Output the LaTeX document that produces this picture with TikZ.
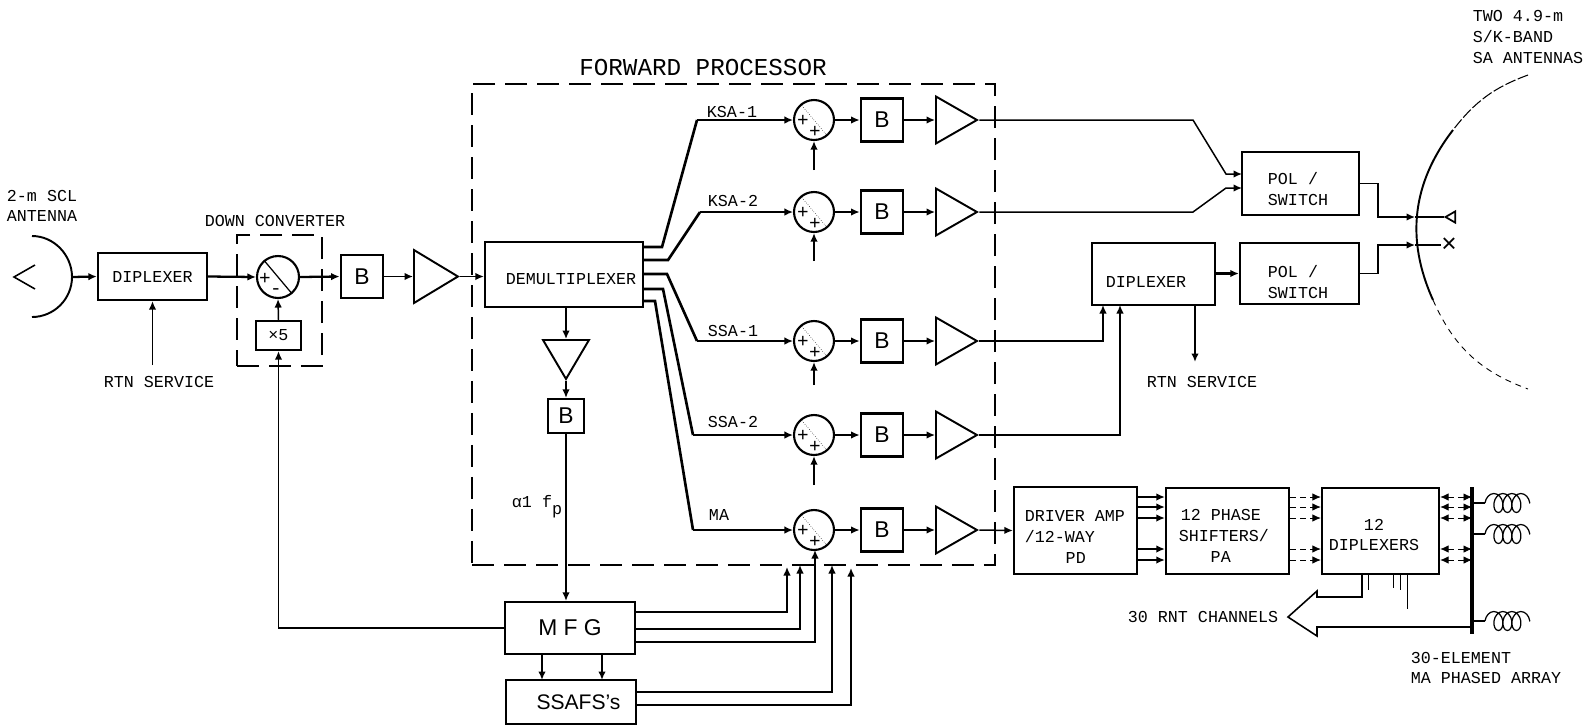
\documentclass[tikz,border=0pt]{standalone}
\usepackage{fontspec}
\setmonofont{Liberation Mono}
\setsansfont{Liberation Sans}
\usetikzlibrary{arrows.meta,calc,shapes.geometric,decorations.pathmorphing}

\begin{document}
\begin{tikzpicture}[
  x=0.02cm, y=-0.02cm,
  line width=0.85pt,
  font=\fontsize{9.5}{11.8}\selectfont\ttfamily,
  blk/.style={draw, fill=white, line width=1.3pt, align=center, inner sep=0pt},
  sbox/.style={blk, minimum width=0.85cm, minimum height=0.86cm, font=\fontsize{13}{15}\selectfont\sffamily},
  big/.style={blk, minimum width=2.38cm, minimum height=1.73cm},
  frm/.style={draw, line width=1.2pt, dash pattern=on 0.44cm off 0.2cm, inner sep=0pt},
  sum/.style={draw, fill=white, circle, line width=1.2pt, minimum size=0.8cm, inner sep=0pt},
  ampl/.style={draw, fill=white, isosceles triangle, isosceles triangle stretches, line width=1.1pt,
    inner sep=0pt, minimum height=0.82cm, minimum width=0.94cm, anchor=lower side},
  flow/.style={-{Latex[length=1.7mm,width=1.5mm]}},
  heavy/.style={flow, line width=1.3pt},
  duo/.style={{Latex[length=1.7mm,width=1.5mm]}-{Latex[length=1.7mm,width=1.5mm]}},
  faint/.style={line width=0.5pt, dash pattern=on 1.2mm off 0.8mm},
  lbl/.style={align=left, inner sep=0pt},
  cross/.style={font=\fontsize{11}{11}\selectfont\ttfamily, inner sep=0pt},
  winding/.style={decorate, decoration={coil, aspect=0.7, segment length=0.18cm, amplitude=0.19cm,
    pre length=0pt, post length=0pt}, line width=0.7pt},
]
\useasboundingbox (0,0) rectangle (1587,725);

% ---------------- frames ----------------
\node[frm, minimum width=10.46cm, minimum height=9.62cm] (fwd) at (733.5,324.5) {};
\node[frm, minimum width=1.7cm, minimum height=2.62cm] (dwn) at (279.5,300.5) {};
\node[lbl, font=\fontsize{13.8}{16}\selectfont\ttfamily] (fwdlbl) at (703,67) {FORWARD PROCESSOR};
\node[lbl] (dwnlbl) at (275,221) {DOWN CONVERTER};

% ---------------- left chain ----------------
\draw[line width=1.1pt] (32,236) .. controls (54,236) and (72,255) .. (72,277)
  .. controls (72,299) and (54,317) .. (32,317);
\draw[line width=0.9pt] (35,265) -- (14,277) -- (35,289);
\coordinate (dish) at (72,277);
\node[lbl] (scl) at (42,206) {2-m SCL\\ANTENNA};
\node[blk, minimum width=2.18cm, minimum height=0.94cm] (dipa) at (152.5,276.5) {DIPLEXER};
\node[sum, minimum size=0.84cm] (mix) at (278,277) {};
\draw[line width=0.7pt] (mix.130) -- (mix.-50);
\node[cross] (mixa) at (265,279) {+};
\node[cross] (mixb) at (276,292) {-};
\node[blk, minimum width=0.9cm, minimum height=0.58cm] (five) at (278.5,335.5) {×5};
\node[sbox] (bfa) at (362,276.5) {B};
\node[ampl, minimum height=0.88cm, minimum width=1.06cm] (ampa) at (413,276.5) {};
\coordinate (rtna) at (dipa.south |- 0,365);
\node[lbl] (rtnalbl) at (159,382) {RTN SERVICE};
\draw[duo, heavy] (dish) -- (dipa.west);
\draw[heavy] (dipa.east) -- (mix.west);
\draw[flow] (rtna) -- (dipa.south);
\draw[flow] (five.north) -- (mix.south);
\draw[heavy] (mix.east) -- (bfa.west);
\draw[flow] (bfa.east) -- (ampa.lower side);

% ---------------- forward processor ----------------
\node[blk, minimum width=3.16cm, minimum height=1.3cm] (demux) at (564,274.5) {};
\node[lbl] (demuxlbl) at (571,279) {DEMULTIPLEXER};
\draw[flow] (ampa.apex) -- (ampa.apex -| demux.west);

% channels: port y, bend x, bend x, channel y
\foreach \i/\py/\ax/\bx/\cy in {1/247/662/697/120, 2/260/668/700/212, 3/274/667/697/341, 4/289/663/693/435, 5/301/655/693/530} {
  \coordinate (port\i) at (643,\py);
  \coordinate (bend\i) at (\bx,\cy);
  \node[sum] (sum\i) at (814,\cy) {};
  \draw[line width=0.3pt, densely dotted] (sum\i.130) -- (sum\i.-50);
  \node[cross] (plusa\i) at ($(sum\i)+(-11,1)$) {+};
  \node[cross] (plusb\i) at ($(sum\i)+(1,12)$) {+};
  \node[sbox] (bf\i) at (882,\cy) {B};
  \node[ampl] (amp\i) at (935,\cy) {};
  \draw[line width=1.5pt] (port\i) -- (\ax,\py) -- (bend\i);
  \draw[flow] (bend\i) -- (sum\i.west);
  \draw[flow] (sum\i.east) -- (bf\i.west);
  \draw[flow] (bf\i.east) -- (amp\i.lower side);
}
\foreach \i/\yy in {1/170, 2/261, 3/385, 4/485} {
  \coordinate (sumin\i) at (sum\i.south |- 0,\yy);
  \draw[heavy] (sumin\i) -- (sum\i.south);
}
\node[lbl] (ksaa) at (732,112) {KSA-1};
\node[lbl] (ksab) at (733,201) {KSA-2};
\node[lbl] (ssaa) at (733,331) {SSA-1};
\node[lbl] (ssab) at (733,422) {SSA-2};
\node[lbl] (malbl) at (719,515) {MA};

% pilot path
\node[ampl, minimum height=0.78cm, minimum width=0.92cm, shape border rotate=-90] (ampp) at (566,339) {};
\node[sbox, minimum width=0.72cm, minimum height=0.68cm] (bfp) at (566,416) {B};
\node[blk, minimum width=2.6cm, minimum height=1.04cm, font=\fontsize{13}{15}\selectfont\sffamily] (mfg) at (570,628) {M F G};
\node[blk, minimum width=2.6cm, minimum height=0.88cm, font=\fontsize{12}{15}\selectfont\sffamily] (ssafs) at (571,702) {\hspace*{0.3cm}SSAFS's};
\node[lbl] (alpha) at (537,507) {α1 f\raisebox{-0.8ex}{p}};
\draw[flow] (demux.south -| ampp.lower side) -- (ampp.lower side);
\draw[flow] (ampp.apex) -- (bfp.north);
\draw[flow] (bfp.south) -- (bfp.south |- mfg.north);
\coordinate (mfgl) at (mfg.west);
\draw[flow] (mfgl) -| (five.south);
\foreach \x in {542,602} {
  \coordinate (mfgd\x) at (\x,654);
  \coordinate (ssu\x) at (\x,680);
  \draw[heavy] (mfgd\x) -- (ssu\x);
}
% pilot feeds
\foreach \i/\py/\ex/\ey in {1/612/787/567, 2/629/800/565, 3/642/815/550, 4/692/832/565, 5/705/851/568} {
  \coordinate (feeda\i) at (635,\py);
  \coordinate (feedb\i) at (\ex,\ey);
  \draw[flow] (feeda\i) -| (feedb\i);
}

% ---------------- right chain ----------------
\node[blk, minimum width=2.34cm, minimum height=1.26cm] (pola) at (1300.5,183.5) {};
\node[lbl] (polalbl) at (1298,189) {POL /\\SWITCH};
\node[blk, minimum width=2.38cm, minimum height=1.22cm] (polb) at (1299.5,273.5) {};
\node[lbl] (polblbl) at (1298,282) {POL /\\SWITCH};
\node[blk, minimum width=2.46cm, minimum height=1.24cm] (dipb) at (1153.5,274) {};
\node[lbl] (dipblbl) at (1146,282) {DIPLEXER};
\coordinate (polaa) at (1242,174);
\coordinate (polab) at (1242,188);
\coordinate (dipba) at (1103,305);
\coordinate (dipbb) at (1120,305);
\coordinate (rtnb) at (1195,305);
\coordinate (rtnc) at (1195,362);
\node[lbl] (rtnblbl) at (1202,382) {RTN SERVICE};
\draw[flow] (amp1.apex) -- (1193,120) -- (1226,174) -- (polaa);
\draw[flow] (amp2.apex) -- (1193,212) -- (1226,188) -- (polab);
\draw[flow] (amp3.apex) -| (dipba);
\draw[flow] (amp4.apex) -| (dipbb);
\draw[heavy] (dipb.east |- polb.west) -- (polb.west);
\draw[heavy] (rtnb) -- (rtnc);

% SA antennas
\draw[line width=0.6pt, dash pattern=on 2.2mm off 0.5mm] (1528,75) to[bend right=16] (1453,130);
\draw[line width=1.1pt] (1453,130) to[bend right=31] (1433,300);
\draw[line width=0.5pt, dash pattern=on 1.2mm off 1mm] (1433,300) to[bend right=23] (1528,389);
\node[regular polygon, regular polygon sides=3, shape border rotate=90, draw, line width=1pt, inner sep=0pt, minimum size=0.26cm] (feedk) at (1452,217) {};
\node[cross, font=\fontsize{15}{15}\selectfont\sffamily] (feeds) at (1449,245) {×};
\coordinate (pola1) at (pola.east);
\coordinate (polb1) at (polb.east);
\coordinate (dishk) at (1415,217);
\coordinate (dishs) at (1415,245);
\draw[flow] (pola1) -- (1378,183.5) -- (1378,217) -- (dishk);
\draw[flow] (polb1) -- (1378,273.5) -- (1378,245) -- (dishs);
\draw (dishk) -- (feedk.west);
\draw (dishs) -- (feeds.west);
\node[lbl] (salbl) at (1528,37) {TWO 4.9-m\\S/K-BAND\\SA ANTENNAS};

% ---------------- MA chain ----------------
\node[big, minimum width=2.46cm] (driver) at (1075.5,530.5) {};
\node[lbl, anchor=west] (driverlbl) at (1024,537) {DRIVER AMP\\/12-WAY\\\hspace*{0.82cm}PD};
\node[big, minimum width=2.46cm] (shift) at (1227.5,531) {};
\node[lbl, anchor=west] (shiftlbl) at (1178,536) {\hspace*{0.04cm}12 PHASE\\SHIFTERS/\\\hspace*{0.64cm}PA};
\node[big, minimum width=2.34cm] (dipc) at (1380.5,531) {};
\node[lbl, align=center] (dipclbl) at (1374,535) {12\\DIPLEXERS};
\draw[flow] (amp5.apex) -- (driver.west);

% array element lines
\coordinate (bartop) at (1472,487);
\coordinate (barbot) at (1472,634);
\draw[line width=2.6pt] (bartop) -- (barbot);
\foreach \yy in {497,507,518,549,560} {
  \coordinate (drv\yy) at (driver.east |- 0,\yy);
  \coordinate (shl\yy) at (shift.west |- 0,\yy);
  \coordinate (shr\yy) at (shift.east |- 0,\yy);
  \coordinate (dpl\yy) at (dipc.west |- 0,\yy);
  \coordinate (dpr\yy) at (dipc.east |- 0,\yy);
  \coordinate (bar\yy) at (bartop |- 0,\yy);
  \draw[flow] (drv\yy) -- (shl\yy);
  \draw[flow, faint] (shr\yy) -- (dpl\yy);
  \draw[duo, faint] (dpr\yy) -- (bar\yy);
}
\foreach \i/\yy in {1/503, 2/534, 3/621} {
  \coordinate (elem\i) at (bartop |- 0,\yy);
  \coordinate (coil\i) at (1485,\yy);
  \coordinate (coiln\i) at (1530,\yy);
  \draw[line width=0.7pt] (elem\i) -- (coil\i);
  \draw[winding] (coil\i) -- (coiln\i);
}
\node[lbl] (elemlbl) at (1486,668) {30-ELEMENT\\MA PHASED ARRAY};

% 30 RNT output
\coordinate (rntb) at (1362,574);
\coordinate (rntc) at (1472,627);
\draw[line width=0.9pt] (rntb) -- (1362,597) -- (1317,597) -- (1317,591) -- (1288,617)
  -- (1317,636) -- (1317,627) -- (rntc);
\foreach \x/\yy in {1368/590, 1393/588, 1400/590, 1407/609} {
  \coordinate (dipo\x) at (\x,574);
  \draw[line width=0.5pt] (dipo\x) -- (\x,\yy);
}
\node[lbl] (rntlbl) at (1203,617) {30 RNT CHANNELS};
\end{tikzpicture}
\end{document}
